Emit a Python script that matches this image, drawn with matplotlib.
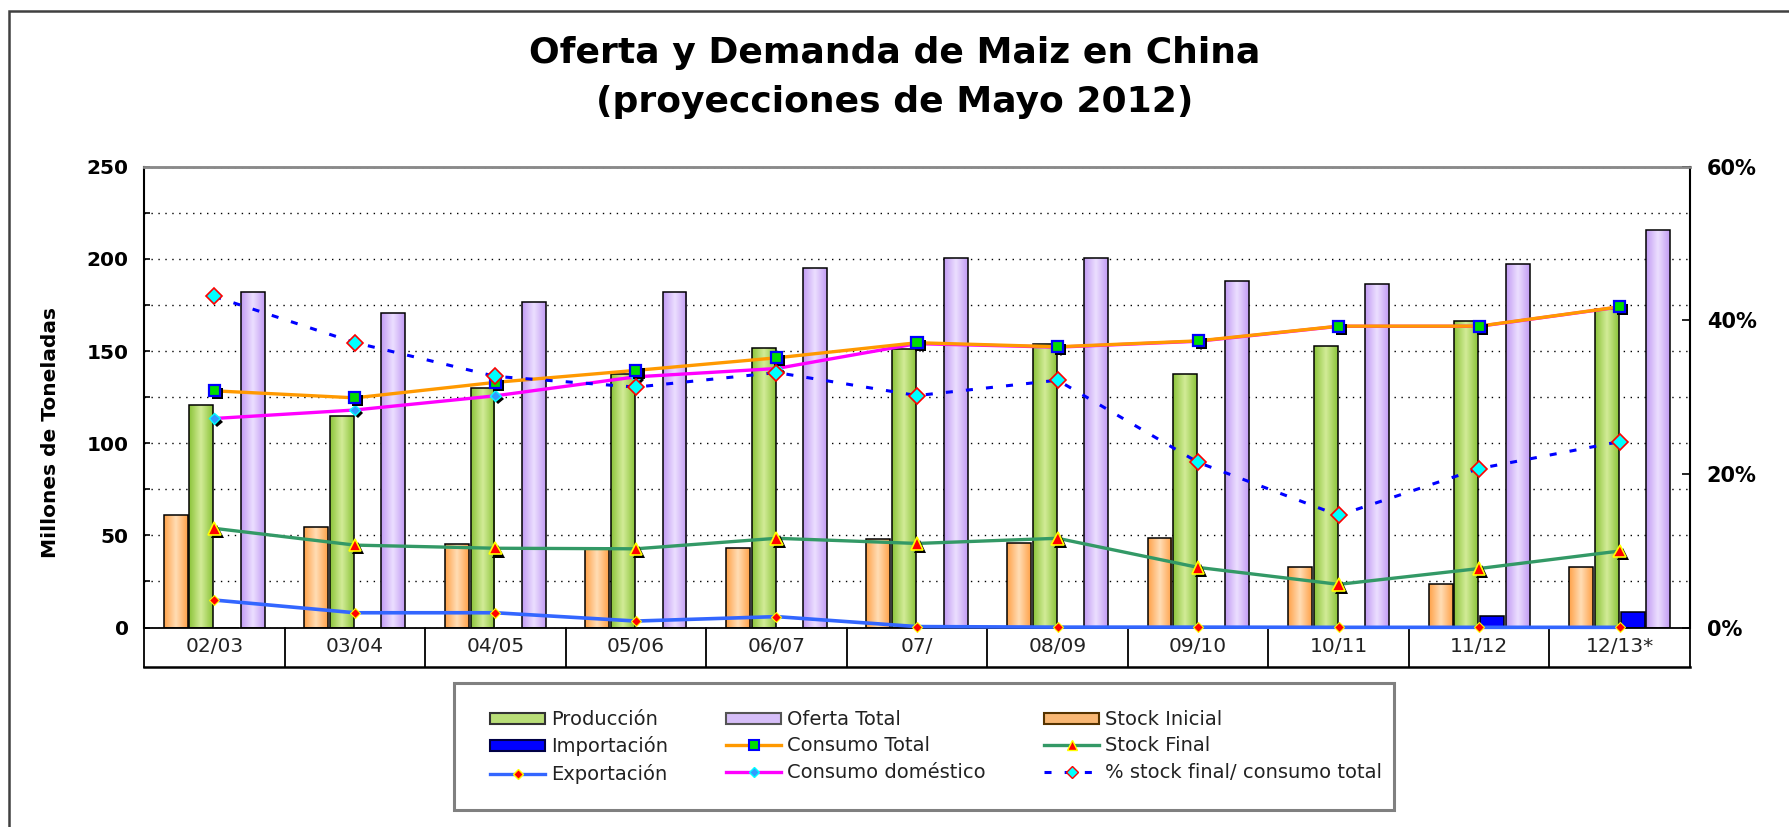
import matplotlib
matplotlib.use("Agg")
import matplotlib.pyplot as plt
import matplotlib.patheffects as pe
import numpy as np
from matplotlib.colors import LinearSegmentedColormap
from matplotlib.lines import Line2D
from matplotlib.patches import Patch, Rectangle
from matplotlib.ticker import MultipleLocator, FuncFormatter

# Datos (millones de toneladas)
campanas = ['02/03', '03/04', '04/05', '05/06', '06/07', '07/', '08/09',
            '09/10', '10/11', '11/12', '12/13*']
stock_inicial = [61.0, 54.3, 45.1, 43.0, 43.0, 47.8, 46.0, 48.4, 32.6, 23.4, 32.6]
produccion = [120.7, 114.9, 129.9, 137.8, 151.6, 151.0, 153.7, 137.6, 152.5, 166.2, 172.6]
importacion = [0.0, 0.0, 0.0, 0.0, 0.0, 0.0, 0.0, 0.0, 0.0, 6.0, 8.5]
oferta_total = [182.1, 170.7, 176.4, 182.1, 194.8, 200.6, 200.6, 187.9, 186.6, 197.0, 215.4]
consumo_total = [128.4, 124.6, 133.0, 139.5, 146.3, 154.5, 152.3, 155.5, 163.5, 163.5, 174.0]
consumo_dom = [113.4, 118.0, 125.7, 136.0, 140.5, 154.0, 152.1, 155.3, 163.4, 163.4, 173.9]
stock_final = [53.8, 44.7, 43.0, 42.7, 48.4, 45.6, 48.4, 32.6, 23.4, 32.0, 41.5]
exportacion = [14.9, 8.0, 8.0, 3.5, 5.9, 0.5, 0.2, 0.2, 0.1, 0.1, 0.1]
pct_stock = [43.1, 37.1, 32.7, 31.3, 33.2, 30.2, 32.2, 21.5, 14.6, 20.7, 24.2]

W, H = 1789, 827
fig = plt.figure(figsize=(W / 100, H / 100), dpi=100)
ax = fig.add_axes([144 / W, 1 - 627.5 / H, (1690 - 144) / W, (627.5 - 166.7) / H])
ax2 = ax.twinx()

x = np.arange(len(campanas))
slot = 0.183
bw = 0.17


def gradient_bars(vals, offset, edge, mid):
    cmap = LinearSegmentedColormap.from_list('g', [edge, mid, edge])
    grad = np.linspace(0, 1, 64).reshape(1, -1)
    bars = ax.bar(x + offset * slot, vals, bw, facecolor='none',
                  edgecolor='black', linewidth=1.1, zorder=2)
    for b in bars:
        if b.get_height() <= 0:
            continue
        x0, w, h = b.get_x(), b.get_width(), b.get_height()
        im = ax.imshow(grad, cmap=cmap, extent=(x0, x0 + w, 0, h),
                       aspect='auto', zorder=1.9, interpolation='bilinear')
        im.set_clip_path(b)
    return bars


gradient_bars(stock_inicial, -1.5, '#FFA24A', '#FFDDB5')
gradient_bars(produccion, -0.5, '#8CC43A', '#D3EC98')
ax.bar(x + 0.5 * slot, importacion, bw, color='#0000FF', edgecolor='black',
       linewidth=1.1, zorder=2)
gradient_bars(oferta_total, 1.5, '#C29CF4', '#ECDFFF')

shadow = [pe.SimplePatchShadow(offset=(2.2, -2.2), shadow_rgbFace='black', alpha=1.0),
          pe.Normal()]

# lineas
ax.plot(x, consumo_dom, color='#FF00FF', lw=2.4, zorder=4)
ax.plot(x, consumo_dom, ls='none', marker='D', ms=5.5, mfc='#3399FF', mec='#00FFFF',
        mew=1.0, zorder=4.1, path_effects=shadow)
ax.plot(x, consumo_total, color='#FF9900', lw=2.4, zorder=4.2)
ax.plot(x, consumo_total, ls='none', marker='s', ms=8, mfc='#00DD00', mec='#0000FF',
        mew=1.6, zorder=4.3, path_effects=shadow)
ax.plot(x, stock_final, color='#339966', lw=2.4, zorder=4.2)
ax.plot(x, stock_final, ls='none', marker='^', ms=9, mfc='#FF0000', mec='#FFFF00',
        mew=1.2, zorder=4.3, path_effects=shadow)
ax.plot(x, exportacion, color='#3366FF', lw=2.6, zorder=4.2, clip_on=False)
ax.plot(x, exportacion, ls='none', marker='D', ms=5, mfc='#FF0000', mec='#FFFF00',
        mew=0.8, zorder=4.3, clip_on=False)

ax2.plot(x, pct_stock, color='#0000FF', lw=2.2, dashes=(2.3, 4.3), zorder=4)
ax2.plot(x, pct_stock, ls='none', marker='D', ms=8.5, mfc='#00FFFF', mec='#FF0000',
         mew=1.2, zorder=4.1)

# ejes
ax.set_xlim(-0.5, len(campanas) - 0.5)
ax.set_ylim(0, 250)
ax2.set_ylim(0, 60)
ax.yaxis.set_major_locator(MultipleLocator(50))
ax.yaxis.set_minor_locator(MultipleLocator(25))
ax.yaxis.grid(True, which='both', linestyle=(0, (1, 4)), color='black', lw=1.0)
ax.set_axisbelow(True)
ax.tick_params(axis='x', which='both', bottom=False, labelbottom=False)
ax.tick_params(axis='y', which='both', direction='in', length=4, width=1.2, pad=11)
for lab in ax.get_yticklabels():
    lab.set_fontweight('bold')
    lab.set_fontsize(14.5)

ax2.set_yticks([0, 20, 40, 60])
ax2.yaxis.set_major_formatter(FuncFormatter(lambda v, p: f'{v:.0f}%'))
ax2.tick_params(axis='y', direction='in', length=6, width=1.2, pad=12)
for lab in ax2.get_yticklabels():
    lab.set_fontweight('bold')
    lab.set_fontsize(15)

for a in (ax, ax2):
    a.spines['top'].set_color('#8a8a8a')
    a.spines['top'].set_linewidth(1.8)
ax.spines['left'].set_linewidth(1.5)
ax.spines['bottom'].set_linewidth(1.3)
ax.spines['right'].set_visible(False)
ax2.spines['left'].set_visible(False)
ax2.spines['bottom'].set_visible(False)
ax2.spines['right'].set_linewidth(1.5)

# tabla de categorias bajo el eje
tr = ax.get_xaxis_transform()
th = 39 / 460.8
for b in np.arange(len(campanas) + 1) - 0.5:
    ax.plot([b, b], [0, -th], transform=tr, color='black', lw=1.3, clip_on=False)
ax.plot([-0.5, len(campanas) - 0.5], [-th, -th], transform=tr, color='black',
        lw=1.8, clip_on=False)
for xi, c in zip(x, campanas):
    ax.text(xi, -th / 2, c, transform=tr, ha='center', va='center',
            fontsize=14.5, color='#222222')

# titulo y etiqueta
fig.text(0.5, 1 - 63 / H, 'Oferta y Demanda de Maiz en China', ha='center',
         va='baseline', fontsize=26, fontweight='bold')
fig.text(0.5, 1 - 112 / H, '(proyecciones de Mayo 2012)', ha='center',
         va='baseline', fontsize=26, fontweight='bold')
fig.text(51 / W, 1 - 432 / H, 'Millones de Toneladas', rotation=90, ha='center',
         va='center', fontsize=14.5, fontweight='bold')

# leyenda
handles = [
    Patch(facecolor='#B9DE78', edgecolor='#333333', lw=1.5),
    Patch(facecolor='#0000FF', edgecolor='#000044', lw=1.5),
    Line2D([], [], color='#3366FF', lw=2.4, marker='D', ms=5, mfc='#FF0000', mec='#FFFF00'),
    Patch(facecolor='#D6BEF8', edgecolor='#555555', lw=1.5),
    Line2D([], [], color='#FF9900', lw=2.4, marker='s', ms=7, mfc='#00DD00', mec='#0000FF', mew=1.5),
    Line2D([], [], color='#FF00FF', lw=2.4, marker='D', ms=5, mfc='#3399FF', mec='#00FFFF'),
    Patch(facecolor='#F8B774', edgecolor='#553300', lw=1.5),
    Line2D([], [], color='#339966', lw=2.4, marker='^', ms=7, mfc='#FF0000', mec='#FFFF00'),
    Line2D([], [], color='#0000FF', lw=2.2, dashes=(2.3, 4.3), marker='D', ms=6,
           mfc='#00FFFF', mec='#FF0000'),
]
labels = ['Producción', 'Importación', 'Exportación', 'Oferta Total', 'Consumo Total',
          'Consumo doméstico', 'Stock Inicial', 'Stock Final',
          '% stock final/ consumo total']
leg = fig.legend(handles, labels, ncol=3, loc='upper left',
                 bbox_to_anchor=(490 / W, 1 - 710 / H), frameon=False,
                 borderpad=0, borderaxespad=0, fontsize=14, handlelength=2.83,
                 handleheight=0.5, handletextpad=0.3, columnspacing=3.0,
                 labelspacing=0.38)
for t in leg.get_texts():
    t.set_color('#222222')

fig.patches.append(Rectangle((454 / W, 1 - 810 / H), (1394 - 454) / W, (810 - 683) / H,
                             transform=fig.transFigure, fill=False,
                             edgecolor='#808080', lw=2.2))
fig.patches.append(Rectangle((9 / W, -0.1), 1.2, 1.1 - 11 / H,
                             transform=fig.transFigure, fill=False,
                             edgecolor='#404040', lw=1.8))

fig.savefig('out.png', dpi=100)
